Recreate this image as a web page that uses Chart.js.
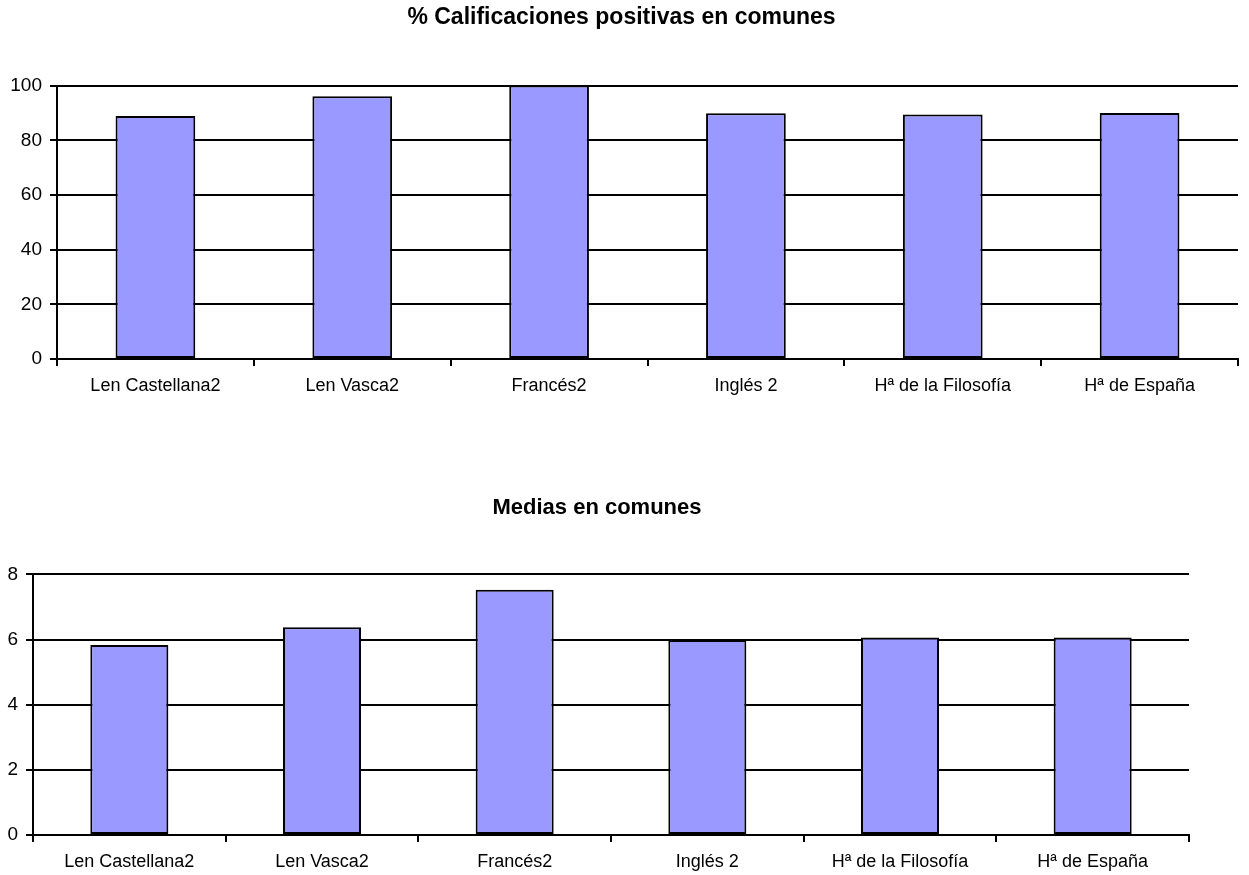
<!DOCTYPE html>
<html>
<head>
<meta charset="utf-8">
<title>Calificaciones en comunes</title>
<script src="https://cdn.jsdelivr.net/npm/chart.js@4.4.1/dist/chart.umd.min.js"></script>
<style>
  body { margin: 0; background: #fff; }
  canvas { position: absolute; left: 0; }
  #chartPct { top: 0; }
  #chartMedias { top: 480px; }
</style>
</head>
<body>
<canvas id="chartPct" width="1243" height="420"></canvas>
<canvas id="chartMedias" width="1223" height="395"></canvas>
<script>
'use strict';
//data
var subjects = ['Len Castellana2', 'Len Vasca2', 'Francés2', 'Inglés 2', 'Hª de la Filosofía', 'Hª de España'];
var positivePct = [88.9, 96.1, 100, 89.9, 89.4, 90.0];
var averageMarks = [5.83, 6.38, 7.53, 5.99, 6.06, 6.06];

var pctTitle = '% Calificaciones positivas en comunes';
var mediasTitle = 'Medias en comunes';
var pctTicks = [0, 20, 40, 60, 80, 100];
var mediasTicks = [0, 2, 4, 6, 8];

var FONT = 'Liberation Sans, Arial, Helvetica, sans-serif';
Chart.defaults.color = '#000';
Chart.defaults.font.family = FONT;

//put the title center where the reference has it
var titleCenter = {
  id: 'titleCenter',
  afterLayout: function(chart, args, opts){
    if(chart.titleBlock && opts.x){
      chart.titleBlock.left = 0;
      chart.titleBlock.right = opts.x * 2;
    }
  }
};

//builds one bar chart config
function barConfig(values, title, ticks, axisWidth, titlePad, titleSize, titleX, xAxisHeight, rightPad){
  return {
    type: 'bar',
    data: {
      labels: subjects,
      datasets: [{
        data: values,
        backgroundColor: '#9999ff',
        borderColor: '#000',
        borderWidth: 2,
        borderSkipped: false,
        categoryPercentage: 1,
        barPercentage: 0.405,
      }]
    },
    plugins: [titleCenter],
    options: {
      responsive: false,
      animation: false,
      layout: { padding: { left: 0, right: rightPad, top: 0, bottom: 0 } },
      plugins: {
        legend: { display: false },
        tooltip: { enabled: false },
        titleCenter: { x: titleX },
        title: {
          display: true,
          text: title,
          font: { size: titleSize, weight: 'bold', family: FONT },
          padding: { top: titlePad[0], bottom: titlePad[1] },
        },
      },
      scales: {
        x: {
          grid: {
            display: true,
            offset: true,
            drawOnChartArea: false,
            drawTicks: true,
            tickLength: 7,
            color: '#000',
            lineWidth: 2,
          },
          border: { display: true, color: '#000', width: 2 },
          ticks: { font: { size: 18 }, padding: 9, maxRotation: 0, autoSkip: false },
          afterFit: function(scale){ scale.height = xAxisHeight; },
        },
        y: {
          min: ticks[0],
          max: ticks[ticks.length - 1],
          grid: { color: '#000', lineWidth: 2, tickLength: 7 },
          border: { display: true, color: '#000', width: 2 },
          ticks: { stepSize: ticks[1] - ticks[0], font: { size: 19 }, padding: 8 },
          afterFit: function(scale){ scale.width = axisWidth; },
        }
      }
    }
  };
}

new Chart(document.getElementById('chartPct'),
  barConfig(positivePct, pctTitle, pctTicks, 57, [4, 54], 23, 621.5, 61, 5));
new Chart(document.getElementById('chartMedias'),
  barConfig(averageMarks, mediasTitle, mediasTicks, 33, [15, 53], 22, 597, 40, 34));
</script>
</body>
</html>
